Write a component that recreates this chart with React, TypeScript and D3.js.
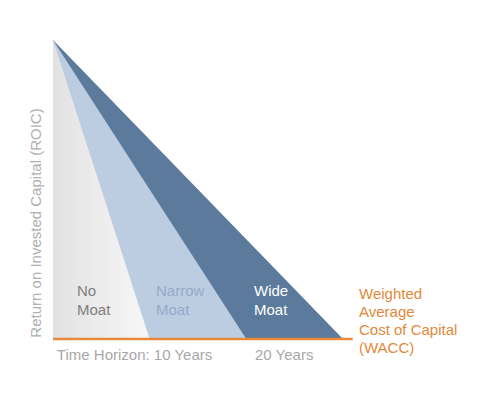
import React from "react";
import * as d3 from "d3";

const moats = ["No Moat", "Narrow Moat", "Wide Moat"];
const fadeYears = [5, 10, 15];
const waccEnd = 15.5;
const horizonLabels = [
  { text: "Time Horizon: 10 Years", at: 0.2 },
  { text: "20 Years", at: 10.45 },
];
const waccLines = ["Weighted", "Average", "Cost of Capital", "(WACC)"];
const yTitle = "Return on Invested Capital (ROIC)";

const W = 502;
const H = 394;
const left = 53;
const top = 40;
const base = 339;

export default function App() {
  const x = d3.scaleLinear().domain([0, 15]).range([left, 343]);
  const y = d3.scaleLinear().domain([0, 1]).range([base, top]);
  const fills = ["url(#noMoat)", "#bccde1", "#5b7a9c"];
  const textColors = ["#7f7f7f", "#93abc9", "#ffffff"];
  const labelX = [77, 156, 254];
  const area = (yrs: number) =>
    d3.line<[number, number]>()
      .x((d) => x(d[0]))
      .y((d) => y(d[1]))([
      [0, 1],
      [yrs, 0],
      [0, 0],
    ]) + "Z";
  const font = "'Liberation Sans', Arial, sans-serif";
  return (
    <svg width={W} height={H} style={{ position: "absolute", left: 0, top: 0, background: "#fff" }} fontFamily={font}>
      <defs>
        <linearGradient id="noMoat" x1="0" x2="1" y1="0" y2="0">
          <stop offset="0" stopColor="#e2e2e2" />
          <stop offset="1" stopColor="#f7f7f7" />
        </linearGradient>
      </defs>
      {[...fadeYears.keys()].reverse().map((i) => (
        <path key={moats[i]} d={area(fadeYears[i])} fill={fills[i]} />
      ))}
      <line x1={x(0)} x2={x(waccEnd)} y1={y(0)} y2={y(0)} stroke="#e8893c" strokeWidth={2.5} />
      {moats.map((m, i) => {
        const parts = m.split(" ");
        return (
          <text key={m} x={labelX[i]} y={296} fontSize={15} fill={textColors[i]}>
            {parts.map((p, j) => (
              <tspan key={j} x={labelX[i]} dy={j === 0 ? 0 : 19}>{p}</tspan>
            ))}
          </text>
        );
      })}
      {horizonLabels.map((h) => (
        <text key={h.text} x={x(h.at)} y={360} fontSize={15} fill="#a8a8a8">{h.text}</text>
      ))}
      <text x={359} y={299} fontSize={15} fill="#e1893a">
        {waccLines.map((l, j) => (
          <tspan key={j} x={359} dy={j === 0 ? 0 : 18}>{l}</tspan>
        ))}
      </text>
      <text transform={`translate(41,223) rotate(-90)`} textAnchor="middle" fontSize={15} fill="#b0b0b0">
        {yTitle}
      </text>
    </svg>
  );
}
